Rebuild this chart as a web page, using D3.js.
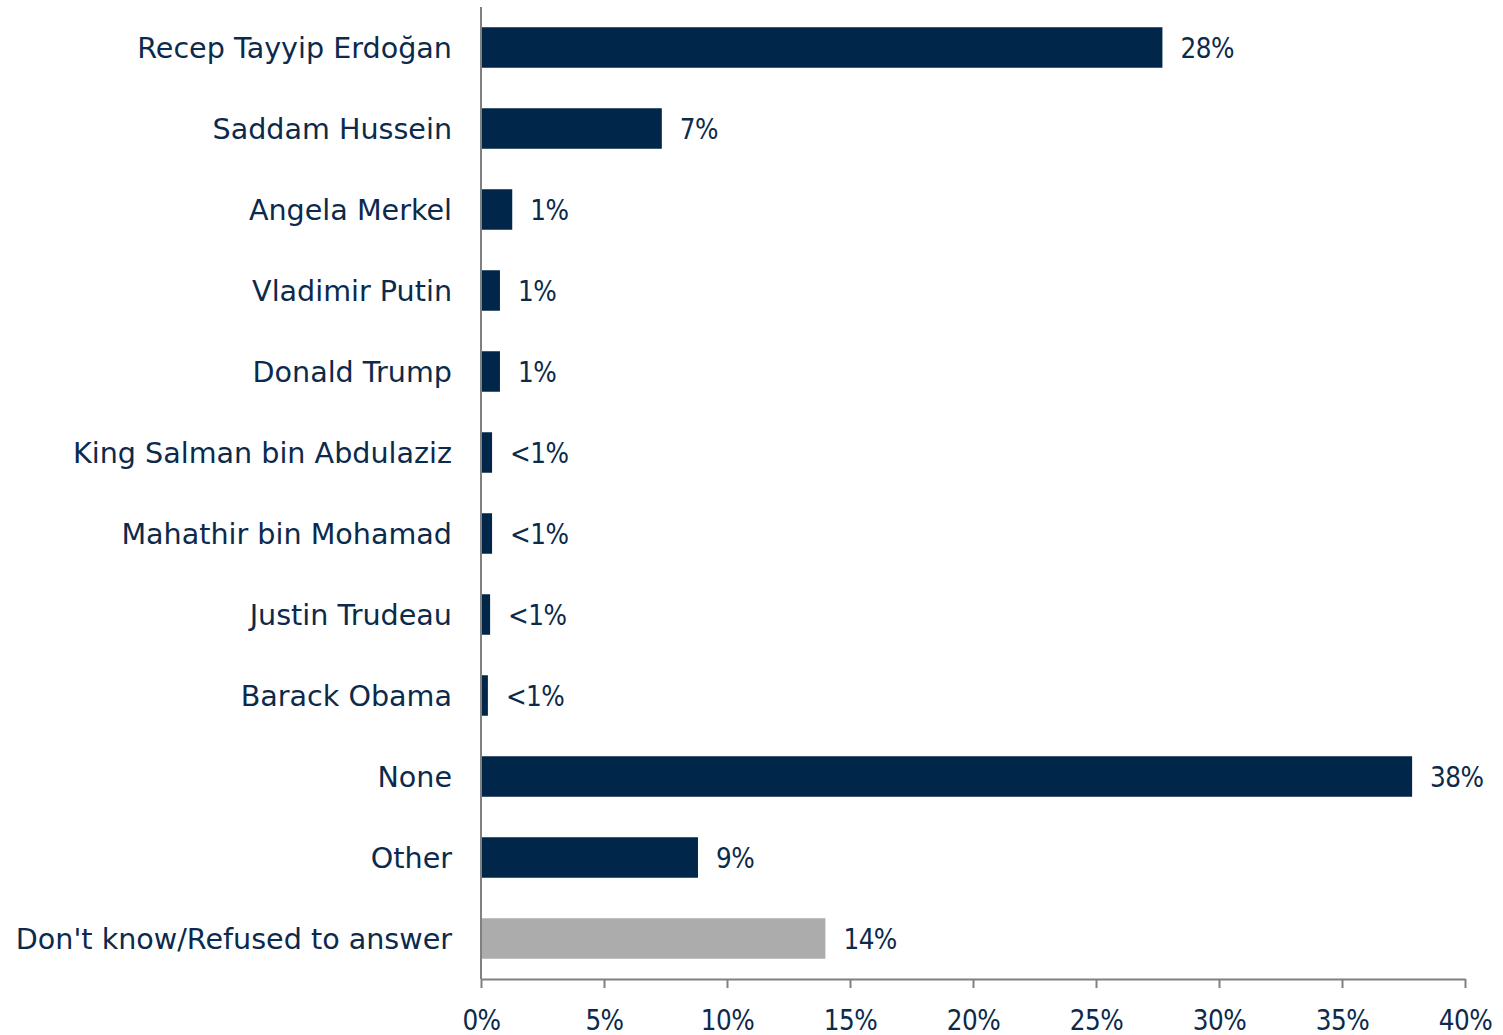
<!DOCTYPE html>
<html><head><meta charset="utf-8">
<script src="https://cdn.jsdelivr.net/npm/d3@7"></script>
<style>
html,body{margin:0;padding:0;background:#fff;}
svg text{font-family:"DejaVu Sans Condensed","DejaVu Sans",sans-serif;fill:#0b2a4c;}
svg text.cat{font-family:"DejaVu Sans",sans-serif;}
</style></head><body>
<svg id="chart" width="1503" height="1035"></svg>
<script>
const categories = ["Recep Tayyip Erdoğan","Saddam Hussein","Angela Merkel","Vladimir Putin","Donald Trump","King Salman bin Abdulaziz","Mahathir bin Mohamad","Justin Trudeau","Barack Obama","None","Other","Don't know/Refused to answer"];
const values = [27.7, 7.35, 1.27, 0.77, 0.77, 0.45, 0.45, 0.37, 0.28, 37.85, 8.82, 14.0];
const valueLabels = ["28%","7%","1%","1%","1%","<1%","<1%","<1%","<1%","38%","9%","14%"];
const tickValues = [0,5,10,15,20,25,30,35,40];
const tickLabels = ["0%","5%","10%","15%","20%","25%","30%","35%","40%"];

const svg = d3.select("#chart");
const mLeft = 481, mRight = 1465, mTop = 7, mBottom = 979;
const x = d3.scaleLinear().domain([0,40]).range([mLeft,mRight]);
const y = d3.scaleBand().domain(categories).range([mTop,mBottom]).paddingInner(0.5).paddingOuter(0.25);
const data = categories.map((c,i)=>({c, v:values[i], l:valueLabels[i]}));

svg.selectAll("rect.bar").data(data).join("rect").attr("class","bar")
  .attr("x", x(0)).attr("y", d=>y(d.c)).attr("width", d=>x(d.v)-x(0)).attr("height", y.bandwidth())
  .attr("fill", d=>d.c.startsWith("Don't") ? "#acacac" : "#002649");

svg.selectAll("text.val").data(data).join("text").attr("class","val")
  .attr("x", d=>x(d.v)+18).attr("y", d=>y(d.c)+y.bandwidth()/2).attr("dy","0.38em")
  .attr("font-size", 27.5).attr("letter-spacing", -0.5).text(d=>d.l);

svg.selectAll("text.cat").data(data).join("text").attr("class","cat")
  .attr("x", 452).attr("y", d=>y(d.c)+y.bandwidth()/2).attr("dy","0.36em")
  .attr("text-anchor","end").attr("font-size", 28.6).text(d=>d.c);

svg.append("line").attr("x1",mLeft).attr("x2",mLeft).attr("y1",mTop).attr("y2",mBottom)
  .attr("stroke","#808080").attr("stroke-width",2);

const xAxis = d3.axisBottom(x).tickValues(tickValues).tickFormat((d,i)=>tickLabels[i]).tickSize(9).tickSizeOuter(0);
const g = svg.append("g").attr("transform",`translate(0,${mBottom})`).call(xAxis);
g.select(".domain").attr("stroke","#808080").attr("stroke-width",2);
g.selectAll(".tick line").attr("stroke","#808080").attr("stroke-width",2);
g.selectAll(".tick text").attr("font-size",27.5).attr("font-family",null).attr("letter-spacing",-0.5).attr("fill","#0b2a4c").attr("y",31).attr("dy","0.71em");
</script></body></html>
